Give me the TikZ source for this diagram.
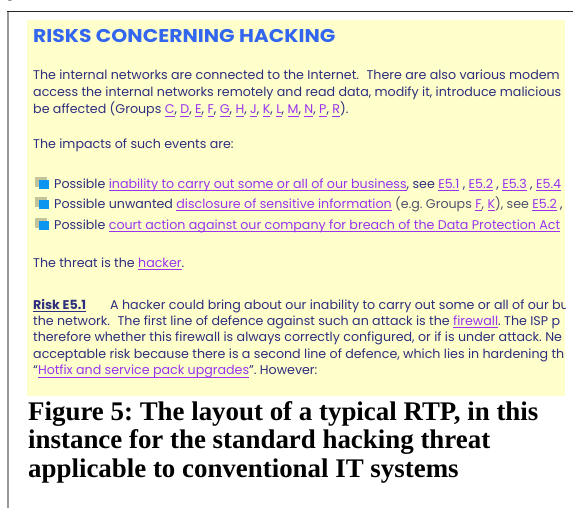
\documentclass[tikz,border=0pt]{standalone}
\usepackage{fontspec}
\setmainfont{Liberation Serif}
\newfontfamily\gothic{Poppins}
\newfontfamily\gothicttl[FakeStretch=1.1]{Poppins}
\definecolor{bg}{HTML}{FFFFCC}
\definecolor{ttl}{HTML}{3366EE}
\definecolor{body}{HTML}{2E2E7E}
\definecolor{grey}{HTML}{50506E}
\definecolor{lnk}{HTML}{9933EE}
\definecolor{sqo}{HTML}{C4C49A}
\definecolor{sqb}{HTML}{0A96F0}
\newsavebox\ulbox
\newcommand\ulin[1]{\sbox\ulbox{#1}\rlap{\rule[-3pt]{\wd\ulbox}{0.8pt}}\usebox\ulbox}
\newcommand\lk[1]{{\color{lnk}\ulin{#1}}}
\frenchspacing
\tikzset{
  txt/.style={anchor=base west, inner sep=0pt, text=body, font=\gothic\fontsize{12.65}{15}\selectfont},
  ttlstyle/.style={anchor=base west, inner sep=0pt, text=ttl, font=\gothicttl\bfseries\fontsize{18.5}{22}\selectfont},
  capstyle/.style={anchor=base west, inner sep=0pt, text=black, font=\bfseries\fontsize{26.9}{29}\selectfont},
  sqback/.style={fill=sqo},
  sqfront/.style={fill=sqb}
}
\begin{document}
\begin{tikzpicture}[x=1pt,y=-1pt]
\useasboundingbox (0,0) rectangle (573,508);
% frame lines
\draw[line width=2pt, gray!80] (7.5,11) -- (7.5,508);
\draw[line width=1pt, black!85] (7,11.5) -- (573,11.5);
\begin{scope}
\clip (0,0) rectangle (573,11);
\node[anchor=base west, inner sep=0pt, font=\fontsize{16}{18}\selectfont] (g) at (6,-2) {g};
\end{scope}
\begin{scope}
\clip (27,20) rectangle (565,396);
\fill[bg] (27,20) rectangle (565,396);
\node[ttlstyle] (title) at (33,43) {RISKS CONCERNING HACKING};
\node[txt] (p1) at (33,80) {The internal networks are connected to the Internet.\hspace{0.6em}There are also various modem};
\node[txt] (p2) at (33,97) {access the internal networks remotely and read data, modify it, introduce malicious};
\node[txt] (p3) at (33,113.5) {be affected (Groups \lk{C}, \lk{D}, \lk{E}, \lk{F}, \lk{G}, \lk{H}, \lk{J}, \lk{K}, \lk{L}, \lk{M}, \lk{N}, \lk{P}, \lk{R}).};
\node[txt] (imp) at (33,149) {The impacts of such events are:};
% bullets
\foreach \b in {188,208,229}{
  \fill[sqback] (35,\b-11) rectangle (46.5,\b-1);
  \fill[sqfront] (38.5,\b-8.5) rectangle (48.5,\b+0.5);
}
\node[txt] (b1) at (54,188) {Possible \lk{inability to carry out some or all of our business}, see \lk{E5.1} , \lk{E5.2} , \lk{E5.3} , \lk{E5.4}};
\node[txt] (b2) at (54,208) {Possible unwanted \lk{disclosure of sensitive information} {\color{grey}(e.g. Groups \lk{F}, \lk{K}), see} \lk{E5.2} ,};
\node[txt] (b3) at (54,229) {Possible \lk{court action against our company for breach of the Data Protection Act}};
\node[txt] (thr) at (33,267) {The threat is the \lk{hacker}.};
\node[txt] (r1) at (33,309) {\bfseries\ulin{Risk E5.1}};
\node[txt] (r1b) at (110,309) {A hacker could bring about our inability to carry out some or all of our business};
\node[txt] (r2) at (33,325) {the network.\hspace{0.6em}The first line of defence against such an attack is the \lk{firewall}. The ISP p};
\node[txt] (r3) at (33,341.5) {therefore whether this firewall is always correctly configured, or if is under attack. Ne};
\node[txt] (r4) at (33,358) {acceptable risk because there is a second line of defence, which lies in hardening th};
\node[txt] (r5) at (33,374.5) {“\lk{Hotfix and service pack upgrades}”. However:};
\end{scope}
\node[capstyle] (c1) at (28,420) {Figure 5: The layout of a typical RTP, in this};
\node[capstyle] (c2) at (28,448.5) {instance for the standard hacking threat};
\node[capstyle] (c3) at (28,477) {applicable to conventional IT systems};
\end{tikzpicture}
\end{document}
